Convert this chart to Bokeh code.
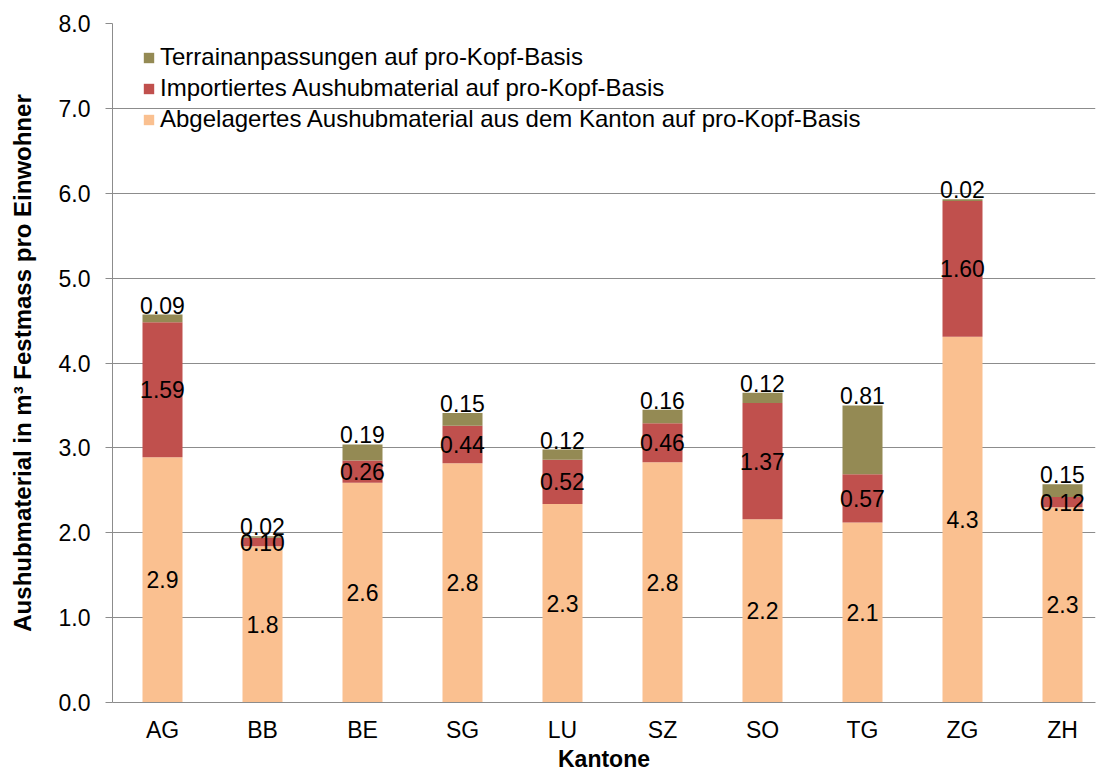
from bokeh.plotting import figure
from bokeh.models import ColumnDataSource, Range1d, FixedTicker, Legend, LegendItem, PrintfTickFormatter
from bokeh.core.properties import value
from bokeh.embed import file_html
from bokeh.resources import INLINE

# ---- data ----
kantone = ["AG", "BB", "BE", "SG", "LU", "SZ", "SO", "TG", "ZG", "ZH"]
abgelagert = [2.89, 1.84, 2.59, 2.82, 2.34, 2.83, 2.16, 2.12, 4.31, 2.30]
importiert = [1.59, 0.10, 0.26, 0.44, 0.52, 0.46, 1.37, 0.57, 1.60, 0.12]
terrain = [0.09, 0.02, 0.19, 0.15, 0.12, 0.16, 0.12, 0.81, 0.02, 0.15]
y_ticks = [0, 1, 2, 3, 4, 5, 6, 7, 8]
series_names = [
    "Terrainanpassungen auf pro-Kopf-Basis",
    "Importiertes Aushubmaterial auf pro-Kopf-Basis",
    "Abgelagertes Aushubmaterial aus dem Kanton auf pro-Kopf-Basis",
]
y_title = "Aushubmaterial in m³ Festmass pro Einwohner"
x_title = "Kantone"

FONT = "Liberation Sans"
C_BASE = "#FAC090"
C_IMP = "#C0504D"
C_TER = "#948A54"
GRAY = "#8C8C8C"

xs = list(range(len(kantone)))
imp_top = [a + b for a, b in zip(abgelagert, importiert)]
ter_top = [t + c for t, c in zip(imp_top, terrain)]

src = ColumnDataSource(dict(
    x=xs, base=abgelagert, imp_bottom=abgelagert, imp_top=imp_top, ter_top=ter_top,
    base_mid=[a / 2 for a in abgelagert],
    imp_mid=[a + b / 2 for a, b in zip(abgelagert, importiert)],
    base_lbl=[f"{v:.1f}" for v in abgelagert],
    imp_lbl=[f"{v:.2f}" for v in importiert],
    ter_lbl=[f"{v:.2f}" for v in terrain],
))

p = figure(width=1096, height=774, output_backend="svg", toolbar_location=None,
           x_range=Range1d(-0.5, 9.33), y_range=Range1d(0, 8))
p.min_border_left = 112
p.min_border_top = 23
p.min_border_bottom = 72
p.min_border_right = 1
p.outline_line_color = None
p.background_fill_color = "white"
p.border_fill_color = "white"

r_base = p.vbar(x="x", bottom=0, top="base", width=0.4, source=src, fill_color=C_BASE, line_color=None)
r_imp = p.vbar(x="x", bottom="imp_bottom", top="imp_top", width=0.4, source=src, fill_color=C_IMP, line_color=None)
r_ter = p.vbar(x="x", bottom="imp_top", top="ter_top", width=0.4, source=src, fill_color=C_TER, line_color=None)

common = dict(text_font=value(FONT), text_font_size="23px", text_color="black", text_align="center")
p.text(x="x", y="base_mid", text="base_lbl", text_baseline="middle", source=src, **common)
p.text(x="x", y="imp_mid", text="imp_lbl", text_baseline="middle", source=src, **common)
p.text(x="x", y="ter_top", text="ter_lbl", text_baseline="bottom", y_offset=-1, source=src, **common)

# axes
p.xaxis.ticker = FixedTicker(ticks=xs)
p.xaxis.major_label_overrides = {i: k for i, k in zip(xs, kantone)}
p.xaxis.major_tick_out = 0
p.xaxis.major_tick_in = 0
p.xaxis.minor_tick_line_color = None
p.xaxis.axis_line_color = GRAY
p.xaxis.major_label_text_font = FONT
p.xaxis.major_label_text_font_size = "23px"
p.xaxis.major_label_text_color = "black"
p.xaxis.major_label_standoff = 14
p.xaxis.axis_label = x_title
p.xaxis.axis_label_text_font = FONT
p.xaxis.axis_label_text_font_style = "bold"
p.xaxis.axis_label_text_font_size = "23px"
p.xaxis.axis_label_text_color = "black"
p.xaxis.axis_label_standoff = 0

p.yaxis.ticker = FixedTicker(ticks=y_ticks)
p.yaxis.formatter = PrintfTickFormatter(format="%.1f")
p.yaxis.major_tick_out = 7
p.yaxis.major_tick_in = 0
p.yaxis.minor_tick_line_color = None
p.yaxis.axis_line_color = GRAY
p.yaxis.major_tick_line_color = GRAY
p.yaxis.major_label_text_font = FONT
p.yaxis.major_label_text_font_size = "23px"
p.yaxis.major_label_text_color = "black"
p.yaxis.major_label_standoff = 15
p.yaxis.axis_label = y_title
p.yaxis.axis_label_text_font = FONT
p.yaxis.axis_label_text_font_style = "bold"
p.yaxis.axis_label_text_font_size = "24px"
p.yaxis.axis_label_text_color = "black"
p.yaxis.axis_label_standoff = 20

p.xgrid.grid_line_color = None
p.ygrid.ticker = FixedTicker(ticks=y_ticks)
p.ygrid.grid_line_color = GRAY
p.ygrid.grid_line_width = 1

legend = Legend(items=[
    LegendItem(label=series_names[0], renderers=[r_ter]),
    LegendItem(label=series_names[1], renderers=[r_imp]),
    LegendItem(label=series_names[2], renderers=[r_base]),
], location=(30, 569))
legend.border_line_color = None
legend.background_fill_alpha = 0
legend.label_text_font = FONT
legend.label_text_font_size = "24px"
legend.label_text_color = "black"
legend.glyph_width = 13
legend.glyph_height = 13
legend.label_height = 28
legend.spacing = 3
legend.padding = 0
legend.margin = 0
legend.label_standoff = 5
p.add_layout(legend)

open("out.html", "w").write(file_html(p, INLINE))
